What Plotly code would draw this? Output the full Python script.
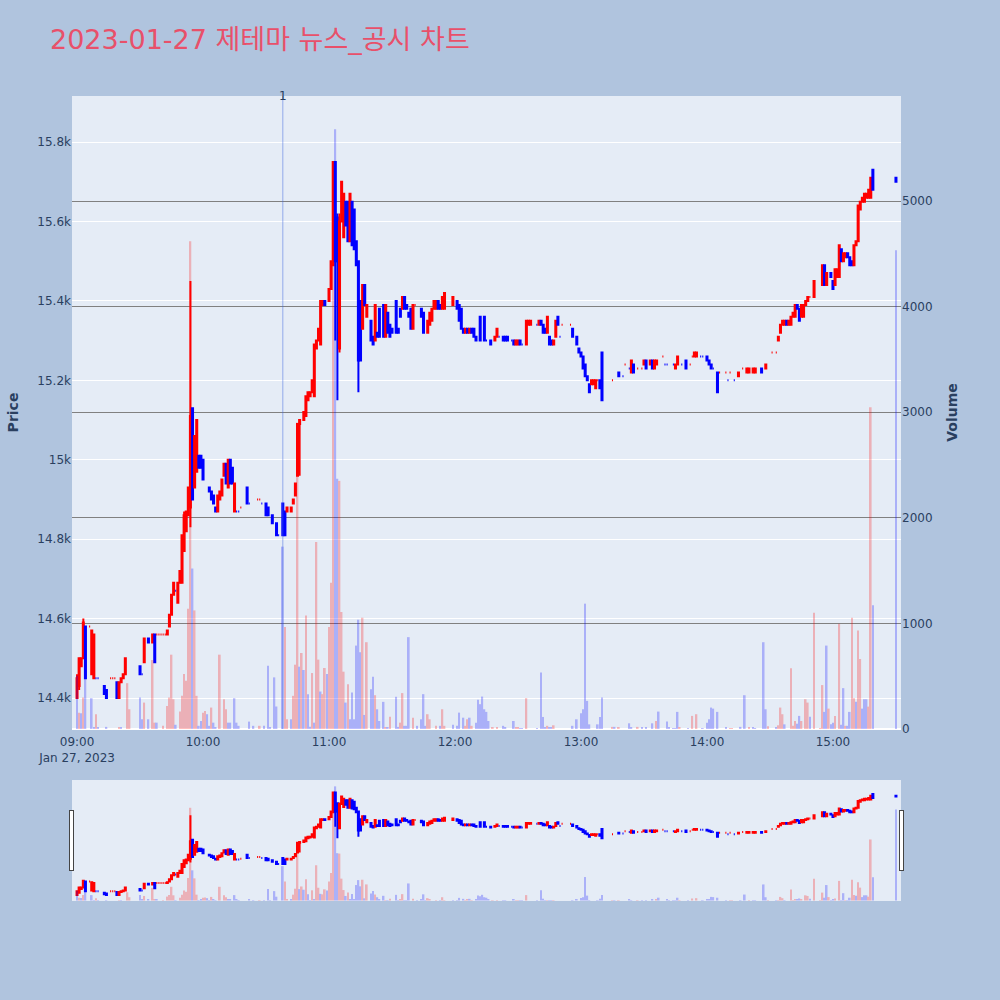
import pandas as pd
import plotly.graph_objects as go

TRADE_DATE = "2023-01-27"
SESSION_START = "09:00"
TITLE = "2023-01-27 제테마 뉴스_공시 차트"

# ---- 1-minute candles (minute offset from 09:00) ----
candle_min = [
    0, 1, 2, 3, 4, 6, 7, 8, 9, 10, 13, 14, 16, 17, 18, 19, 20, 21, 22, 23, 30, 31, 32, 34, 36,
    37, 38, 39, 40, 41, 42, 43, 44, 45, 46, 47, 48, 49, 50, 51, 52, 53, 54, 55, 56, 57, 58, 59, 60,
    63, 64, 65, 66, 67, 68, 69, 70, 71, 72, 73, 74, 75, 76, 77, 78, 81, 82, 86, 87,
    88, 90, 91, 93, 95, 96, 98, 99, 100, 102, 103, 104, 105, 106, 108, 109, 110, 111, 112, 113,
    114, 115, 116, 117, 118, 120,
    121, 122, 123, 124, 125, 126, 127, 128, 129, 130, 131, 132, 133, 134, 135, 136, 137, 138, 140, 141,
    142, 143, 144, 146, 147, 148, 149, 150, 152, 153, 154, 155, 156, 157, 158, 159, 160, 161, 164, 165,
    167, 168, 169, 170, 171, 172, 173, 174, 175, 179,
    181, 182, 183, 184, 185, 186, 187, 188, 189, 190, 192, 194, 195, 197, 199, 200, 201, 203, 204, 205,
    207, 208, 209, 210, 211, 212, 214, 215, 216, 219, 220, 221, 222, 223, 224, 225, 226, 227, 228, 229,
    230, 231, 235, 236, 238, 239, 240,
    241, 242, 243, 244, 245, 246, 247, 248, 249, 250, 255, 258, 260, 261, 263, 264, 265, 267, 269, 270,
    271, 273, 274, 275, 276, 279, 280, 281, 284, 285, 286, 288, 290, 292, 293, 294, 295, 297, 298, 300,
    301, 302, 303, 305, 306, 309, 310, 311, 313, 315, 317, 319, 320, 322, 323, 326, 328, 331, 333, 334,
    335, 336, 337, 338, 339, 340, 341, 342, 343, 344, 345, 346, 347, 348, 349, 351, 355, 356, 357, 359,
    360,
    361, 362, 363, 364, 365, 366, 367, 368, 369, 370, 371, 372, 373, 374, 375, 376, 377, 378, 379, 390,
]
open_px = [
    14400, 14430, 14480, 14500, 14580, 14580, 14460, 14450, 14450, 14450, 14430, 14420, 14450, 14450, 14450,
    14440, 14400, 14440, 14450, 14460, 14480, 14460, 14490, 14550, 14540, 14560, 14560, 14560, 14560, 14560,
    14560, 14560, 14580, 14610, 14660, 14670, 14640, 14690, 14690, 14770, 14820, 14860, 14880, 15130, 14930,
    14970, 15010, 15010, 15000,
    14930, 14920, 14910, 14880, 14870, 14900, 14910, 14960, 14990, 14930, 15000, 14980, 14870, 14870, 14870,
    14880, 14930, 14890, 14900, 14900, 14890, 14890, 14880, 14860, 14840, 14810, 14890, 14870, 14870, 14870,
    14890, 14910, 14960, 15090, 15100, 15110, 15150, 15160, 15170, 15160, 15280, 15300, 15290, 15390, 15400,
    15400,
    15430, 15490, 15750, 15610, 15280, 15600, 15560, 15650, 15650, 15550, 15650, 15630, 15550, 15500, 15400,
    15330, 15440, 15360, 15350, 15310, 15300, 15320, 15380, 15390, 15310, 15370, 15340, 15330, 15400, 15330,
    15380, 15380, 15410, 15390, 15370, 15380, 15330, 15390, 15380, 15370, 15320, 15340, 15350, 15380, 15380,
    15400, 15390, 15380, 15380, 15390,
    15400, 15390, 15380, 15330, 15320, 15330, 15320, 15330, 15330, 15310, 15360, 15360, 15300, 15300, 15300,
    15310, 15310, 15310, 15310, 15310, 15300, 15300, 15290, 15290, 15300, 15290, 15290, 15340, 15340, 15340,
    15340, 15350, 15340, 15330, 15320, 15310, 15300, 15290, 15310, 15360, 15310, 15340, 15340, 15330, 15310,
    15280, 15270,
    15260, 15240, 15210, 15190, 15190, 15190, 15180, 15200, 15200, 15270, 15200, 15220, 15210, 15240, 15230,
    15220, 15240, 15230, 15230, 15240, 15250, 15240, 15250, 15230, 15240, 15260, 15240, 15240, 15240, 15230,
    15240, 15240, 15250, 15240, 15260, 15260, 15260, 15260, 15260, 15260,
    15250, 15240, 15230, 15220, 15220, 15220, 15200, 15220, 15200, 15210, 15230, 15220, 15220, 15220, 15220,
    15230, 15230, 15270, 15270, 15300, 15320, 15340, 15340, 15350, 15340, 15340, 15360, 15360, 15390, 15380,
    15360, 15360, 15390, 15400, 15410, 15410, 15440, 15490, 15440, 15470, 15450,
    15440, 15460, 15460, 15530, 15500, 15510, 15520, 15510, 15500, 15490, 15540, 15550, 15630, 15650, 15650,
    15660, 15660, 15660, 15730, 15710,
]
high_px = [
    14460, 14500, 14500, 14600, 14580, 14580, 14570, 14560, 14450, 14450, 14430, 14420, 14450, 14450, 14450,
    14440, 14440, 14450, 14460, 14500, 14480, 14460, 14550, 14550, 14560, 14560, 14560, 14560, 14560, 14560,
    14560, 14570, 14610, 14660, 14690, 14670, 14690, 14720, 14810, 14870, 14870, 14930, 15450, 15130, 15060,
    15100, 15010, 15010, 15000,
    14930, 14920, 14910, 14880, 14910, 14920, 14950, 14990, 14990, 15000, 15000, 14980, 14940, 14870, 14870,
    14880, 14930, 14890, 14900, 14900, 14890, 14890, 14880, 14860, 14840, 14810, 14890, 14870, 14880, 14880,
    14900, 14940, 15090, 15100, 15120, 15160, 15170, 15170, 15200, 15290, 15300, 15330, 15400, 15400, 15400,
    15430,
    15500, 15750, 15750, 15620, 15620, 15700, 15670, 15650, 15650, 15670, 15650, 15630, 15550, 15500, 15400,
    15440, 15440, 15390, 15350, 15310, 15390, 15320, 15380, 15390, 15390, 15370, 15340, 15330, 15400, 15330,
    15380, 15410, 15410, 15390, 15370, 15380, 15390, 15390, 15380, 15370, 15350, 15370, 15380, 15400, 15400,
    15400, 15390, 15410, 15420, 15410,
    15400, 15390, 15380, 15330, 15330, 15330, 15330, 15330, 15330, 15310, 15360, 15360, 15300, 15300, 15310,
    15330, 15310, 15310, 15310, 15310, 15300, 15300, 15300, 15300, 15300, 15290, 15350, 15350, 15350, 15340,
    15350, 15350, 15340, 15330, 15360, 15310, 15300, 15300, 15350, 15360, 15310, 15340, 15340, 15330, 15310,
    15280, 15270,
    15260, 15240, 15210, 15190, 15200, 15200, 15200, 15200, 15200, 15270, 15200, 15220, 15210, 15240, 15230,
    15250, 15240, 15230, 15230, 15250, 15250, 15250, 15250, 15250, 15250, 15260, 15240, 15240, 15240, 15240,
    15260, 15240, 15250, 15240, 15260, 15270, 15270, 15260, 15260, 15260,
    15250, 15240, 15230, 15220, 15220, 15220, 15200, 15220, 15200, 15220, 15230, 15230, 15230, 15230, 15230,
    15230, 15240, 15270, 15270, 15310, 15340, 15350, 15350, 15350, 15350, 15360, 15370, 15390, 15390, 15380,
    15390, 15390, 15400, 15410, 15410, 15450, 15490, 15490, 15470, 15470, 15450,
    15480, 15480, 15540, 15530, 15520, 15520, 15520, 15510, 15500, 15540, 15550, 15640, 15650, 15660, 15670,
    15670, 15680, 15710, 15730, 15710,
]
low_px = [
    14400, 14420, 14480, 14500, 14450, 14580, 14460, 14450, 14450, 14450, 14410, 14400, 14450, 14450, 14450,
    14400, 14400, 14440, 14450, 14460, 14460, 14460, 14490, 14540, 14540, 14490, 14560, 14560, 14560, 14560,
    14560, 14560, 14580, 14610, 14660, 14670, 14640, 14690, 14690, 14770, 14820, 14860, 14830, 14900, 14930,
    14970, 14980, 14980, 14950,
    14920, 14900, 14890, 14870, 14870, 14900, 14910, 14960, 14940, 14930, 14940, 14940, 14870, 14870, 14870,
    14880, 14890, 14890, 14900, 14900, 14890, 14860, 14860, 14840, 14810, 14810, 14810, 14810, 14870, 14870,
    14890, 14910, 14960, 14960, 15100, 15110, 15150, 15160, 15170, 15160, 15280, 15300, 15290, 15390, 15390,
    15400,
    15430, 15490, 15300, 15150, 15270, 15600, 15560, 15590, 15550, 15550, 15540, 15530, 15490, 15170, 15250,
    15330, 15390, 15360, 15300, 15290, 15300, 15310, 15310, 15310, 15310, 15320, 15310, 15320, 15320, 15320,
    15360, 15380, 15380, 15380, 15360, 15330, 15330, 15390, 15360, 15320, 15320, 15340, 15350, 15380, 15380,
    15380, 15380, 15380, 15380, 15390,
    15380, 15350, 15330, 15320, 15320, 15320, 15320, 15320, 15310, 15300, 15300, 15300, 15300, 15290, 15300,
    15310, 15310, 15300, 15300, 15300, 15300, 15290, 15290, 15290, 15290, 15290, 15290, 15340, 15340, 15340,
    15340, 15340, 15320, 15320, 15320, 15290, 15290, 15290, 15310, 15340, 15310, 15340, 15340, 15310, 15290,
    15270, 15260,
    15230, 15210, 15200, 15170, 15190, 15190, 15180, 15200, 15180, 15150, 15200, 15210, 15210, 15240, 15230,
    15220, 15220, 15230, 15230, 15240, 15230, 15240, 15230, 15230, 15240, 15260, 15240, 15240, 15240, 15230,
    15240, 15240, 15230, 15240, 15260, 15260, 15260, 15260, 15260, 15250,
    15240, 15230, 15230, 15170, 15220, 15220, 15200, 15220, 15200, 15210, 15230, 15220, 15220, 15220, 15220,
    15220, 15230, 15270, 15270, 15300, 15320, 15340, 15340, 15340, 15340, 15340, 15360, 15360, 15380, 15350,
    15360, 15360, 15390, 15400, 15410, 15410, 15440, 15440, 15440, 15460, 15430,
    15440, 15460, 15460, 15500, 15500, 15510, 15510, 15490, 15490, 15490, 15540, 15550, 15630, 15650, 15650,
    15660, 15660, 15660, 15680, 15700,
]
close_px = [
    14450, 14500, 14500, 14590, 14450, 14580, 14570, 14560, 14450, 14450, 14410, 14400, 14450, 14450, 14450,
    14400, 14440, 14450, 14460, 14500, 14460, 14460, 14550, 14540, 14560, 14490, 14560, 14560, 14560, 14560,
    14560, 14570, 14610, 14660, 14690, 14670, 14690, 14720, 14810, 14860, 14870, 14930, 15110, 14900, 15060,
    15100, 14980, 14980, 14950,
    14920, 14900, 14890, 14870, 14910, 14920, 14950, 14990, 14940, 15000, 14940, 14940, 14940, 14870, 14870,
    14880, 14890, 14890, 14900, 14900, 14890, 14860, 14860, 14840, 14810, 14810, 14810, 14810, 14880, 14880,
    14900, 14940, 15090, 15100, 15120, 15160, 15170, 15170, 15200, 15290, 15300, 15330, 15400, 15400, 15390,
    15430,
    15500, 15750, 15500, 15500, 15600, 15700, 15670, 15590, 15550, 15670, 15540, 15530, 15490, 15250, 15250,
    15440, 15390, 15390, 15300, 15290, 15390, 15310, 15310, 15310, 15390, 15320, 15310, 15320, 15320, 15320,
    15360, 15410, 15380, 15380, 15360, 15330, 15390, 15390, 15360, 15320, 15350, 15370, 15380, 15400, 15400,
    15380, 15380, 15410, 15420, 15410,
    15380, 15350, 15330, 15320, 15330, 15320, 15330, 15320, 15310, 15300, 15300, 15300, 15300, 15290, 15310,
    15330, 15310, 15300, 15300, 15300, 15300, 15290, 15300, 15300, 15290, 15290, 15350, 15350, 15350, 15340,
    15350, 15340, 15320, 15320, 15360, 15290, 15290, 15300, 15350, 15340, 15310, 15340, 15340, 15310, 15290,
    15270, 15260,
    15230, 15210, 15200, 15170, 15200, 15200, 15200, 15200, 15180, 15150, 15200, 15210, 15210, 15240, 15230,
    15250, 15220, 15230, 15230, 15250, 15230, 15250, 15230, 15250, 15250, 15260, 15240, 15240, 15240, 15240,
    15260, 15240, 15230, 15240, 15260, 15270, 15270, 15260, 15260, 15250,
    15240, 15230, 15230, 15170, 15220, 15220, 15200, 15220, 15200, 15220, 15230, 15230, 15230, 15230, 15230,
    15220, 15240, 15270, 15270, 15310, 15340, 15350, 15350, 15340, 15350, 15360, 15370, 15390, 15380, 15350,
    15390, 15390, 15400, 15410, 15410, 15450, 15490, 15440, 15470, 15460, 15430,
    15480, 15480, 15540, 15500, 15520, 15520, 15510, 15490, 15490, 15540, 15550, 15640, 15650, 15660, 15670,
    15670, 15680, 15710, 15680, 15700,
]

# ---- 1-minute volume (minute offset, shares, side: u = up / d = down) ----
vol_min = [
    0, 1, 2, 3, 4, 7, 8, 9, 10, 14, 20, 21, 24, 25, 30, 31, 32, 34, 36, 37,
    38, 41, 43, 44, 45, 46, 47, 49, 50, 51, 52, 53, 54, 55, 56, 57, 58, 59, 60, 61,
    62, 63, 64, 65, 66, 68, 70, 71, 72, 73, 75, 76, 77, 82, 84, 87, 89, 91, 92, 94,
    95, 98, 99, 100, 102, 103, 104, 105, 106, 107, 108, 109, 110, 111, 112, 113, 114, 115, 116, 117,
    118, 119, 120, 121, 122, 123, 124, 125, 126, 127, 128, 129, 130, 131, 132, 133, 134, 135, 136, 137,
    138, 140, 141, 142, 143, 144, 146, 147, 148, 149, 152, 153, 154, 155, 156, 157, 158, 160, 162, 164,
    165, 166, 167, 168, 171, 173, 174, 175, 179, 181, 182, 184, 185, 186, 187, 188, 190, 191, 192, 193,
    194, 195, 196, 198, 200, 203, 204, 208, 209, 210, 211, 212, 214, 219, 221, 222, 223, 224, 225, 226,
    227, 236, 238, 240, 241, 242, 243, 244, 248, 249, 250, 255, 256, 258, 263, 264, 267, 269, 271, 274,
    276, 277, 281, 282, 284, 285, 286, 287, 291, 293, 295, 298, 300, 301, 302, 303, 305, 309, 311, 312,
    316, 318, 320, 322, 323, 327, 328, 329, 333, 334, 335, 336, 337, 340, 341, 342, 343, 344, 345, 347,
    348, 349, 351, 354, 355, 356, 357, 358, 359, 360, 361, 363, 364, 365, 366, 367, 368, 369, 370, 371,
    372, 373, 374, 375, 376, 377, 378, 379, 390,
]
vol_val = [
    504, 155, 149, 298, 480, 292, 15, 140, 15, 20, 15, 15, 434, 187, 298, 92, 250, 92, 653, 60,
    60, 30, 218, 298, 704, 282, 40, 165, 314, 520, 457, 1139, 4619, 1520, 1123, 314, 30, 76, 155, 170,
    140, 30, 203, 60, 10, 704, 282, 187, 60, 60, 292, 60, 30, 70, 30, 30, 30, 600, 10, 489,
    213, 1727, 965, 92, 92, 314, 609, 2902, 590, 720, 559, 1076, 330, 22, 530, 60, 1771, 657, 355, 330,
    578, 520, 965, 1384, 4950, 5680, 2370, 2350, 1108, 543, 250, 425, 92, 346, 92, 790, 1035, 727, 1054, 133,
    822, 377, 495, 320, 187, 76, 257, 12, 12, 117, 305, 20, 60, 340, 30, 30, 870, 107, 30, 92,
    330, 30, 140, 92, 30, 30, 187, 30, 40, 30, 155, 107, 30, 92, 107, 30, 60, 276, 235, 307,
    187, 162, 76, 15, 15, 30, 15, 76, 10, 10, 8, 5, 292, 5, 536, 114, 15, 30, 15, 15,
    35, 30, 92, 149, 187, 1187, 266, 44, 44, 114, 298, 20, 20, 10, 54, 15, 20, 10, 20, 54,
    76, 165, 70, 10, 8, 8, 162, 15, 5, 124, 140, 8, 60, 92, 203, 193, 162, 10, 8, 8,
    20, 320, 15, 15, 8, 822, 187, 25, 10, 35, 203, 140, 44, 575, 30, 76, 50, 124, 76, 282,
    250, 117, 1101, 5, 416, 162, 790, 193, 44, 60, 124, 996, 40, 387, 30, 30, 162, 1054, 292, 257,
    933, 663, 193, 282, 282, 212, 3048, 1171, 4533,
]
vol_side = [
    "d", "u", "d", "u", "d", "d", "d", "u", "d", "d", "u", "d", "u", "u", "d", "d", "u", "d", "u", "u",
    "d", "u", "u", "u", "u", "u", "d", "u", "u", "u", "u", "u", "u", "d", "u", "u", "d", "d", "u", "u",
    "d", "d", "u", "d", "d", "u", "u", "u", "d", "d", "d", "d", "d", "d", "d", "u", "d", "d", "d", "d",
    "d", "d", "u", "u", "d", "u", "u", "u", "d", "u", "d", "u", "d", "d", "u", "d", "u", "u", "d", "u",
    "u", "d", "u", "u", "u", "d", "d", "u", "u", "u", "d", "u", "d", "d", "d", "d", "d", "d", "u", "d",
    "u", "d", "d", "u", "d", "d", "d", "u", "d", "u", "d", "d", "u", "u", "d", "d", "d", "u", "d", "d",
    "d", "d", "u", "u", "u", "d", "u", "u", "d", "d", "d", "d", "u", "u", "d", "u", "d", "d", "d", "d",
    "d", "d", "d", "u", "u", "d", "d", "d", "u", "u", "d", "d", "u", "d", "d", "d", "d", "u", "d", "d",
    "u", "d", "d", "d", "d", "d", "d", "d", "d", "d", "d", "u", "d", "u", "d", "d", "u", "d", "d", "d",
    "u", "d", "d", "d", "d", "d", "d", "u", "d", "u", "u", "d", "d", "d", "d", "d", "d", "d", "u", "u",
    "d", "d", "u", "d", "d", "d", "d", "u", "d", "u", "u", "u", "d", "u", "u", "u", "d", "d", "u", "u",
    "u", "d", "u", "u", "u", "d", "d", "u", "d", "d", "u", "u", "d", "d", "u", "d", "d", "u", "u", "d",
    "u", "u", "d", "d", "d", "u", "u", "d", "d",
]

# ---- disclosure / news marker ----
event_times = ["10:38"]
event_labels = ["1"]

t0 = pd.Timestamp(f"{TRADE_DATE} {SESSION_START}")
candle_t = [t0 + pd.Timedelta(minutes=m) for m in candle_min]
vol_t = [t0 + pd.Timedelta(minutes=m) for m in vol_min]
side_color = {"u": "red", "d": "blue"}

fig = go.Figure()
fig.add_trace(go.Candlestick(
    x=candle_t, open=open_px, high=high_px, low=low_px, close=close_px,
    increasing=dict(line=dict(color="red"), fillcolor="red"),
    decreasing=dict(line=dict(color="blue"), fillcolor="blue"),
    name="Price", showlegend=False,
))
fig.add_trace(go.Bar(
    x=vol_t, y=vol_val, yaxis="y2", name="Volume", showlegend=False,
    marker=dict(color=[side_color[s] for s in vol_side], line=dict(width=0)),
    opacity=0.25,
))

for et, lab in zip(event_times, event_labels):
    ts = pd.Timestamp(f"{TRADE_DATE} {et}")
    fig.add_shape(type="line", x0=ts, x1=ts, xref="x", y0=0, y1=1, yref="paper",
                  line=dict(color="royalblue", width=1), opacity=0.5)
    fig.add_annotation(x=ts, xref="x", y=1, yref="paper", yanchor="middle", text=lab,
                       showarrow=False, font=dict(size=12, color="#2a3f5f"))

x_lo = t0 + pd.Timedelta(minutes=min(candle_min) - 2.4)
x_hi = t0 + pd.Timedelta(minutes=max(candle_min) + 2.4)

fig.update_layout(
    width=1000, height=1000,
    font=dict(family="DejaVu Sans, Noto Sans CJK KR, sans-serif"),
    paper_bgcolor="lightsteelblue",
    plot_bgcolor="#E5ECF6",
    margin=dict(l=72, r=99, t=96, b=100),
    title=dict(text=TITLE, x=0.05, xanchor="left", y=0.96, yanchor="middle",
               font=dict(size=27, color="#E8506A")),
    xaxis=dict(range=[x_lo, x_hi], showgrid=False, ticklabelstandoff=4,
               rangeslider=dict(visible=True, thickness=0.15, bgcolor="#E5ECF6")),
    yaxis=dict(title=dict(text="Price", font=dict(weight="bold")), range=[14322, 15916]),
    yaxis2=dict(title=dict(text="Volume", font=dict(weight="bold")), overlaying="y", side="right",
                range=[0, 5995], showgrid=True, gridcolor="gray"),
)

fig.write_html(
    "out.html",
    config={"displayModeBar": False},
    post_script="document.body.style.margin='0';document.body.style.overflow='hidden';",
)
